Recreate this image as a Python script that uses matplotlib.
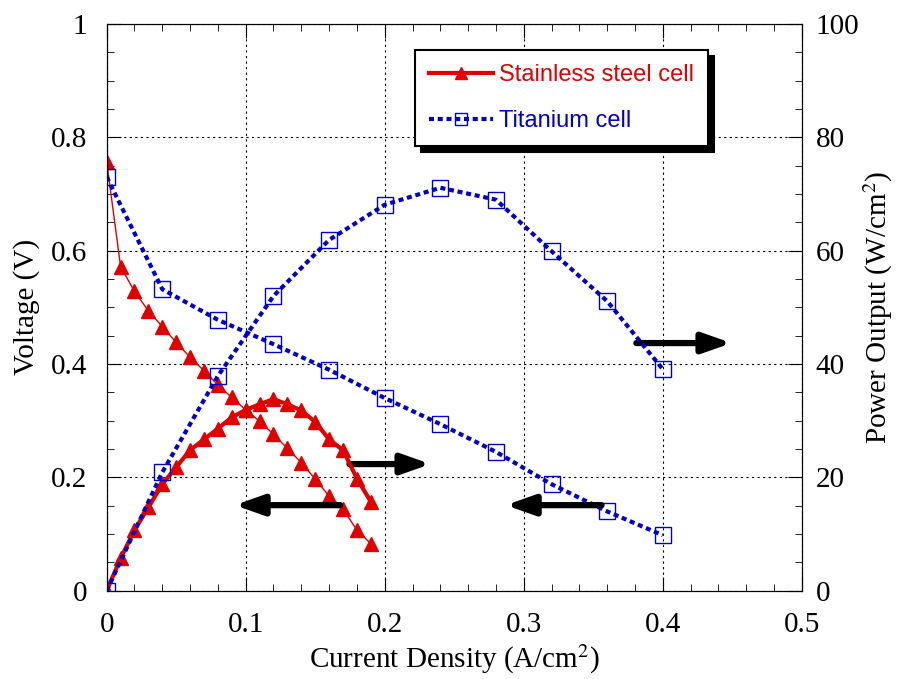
import matplotlib
matplotlib.use('Agg')
import matplotlib.pyplot as plt
from matplotlib.ticker import MultipleLocator

plt.rcParams['font.family'] = 'Liberation Serif'
plt.rcParams['mathtext.fontset'] = 'stix'

# stainless steel cell
ss_j = [0.0, 0.01, 0.02, 0.03, 0.04, 0.05, 0.06, 0.07, 0.08, 0.09,
        0.10, 0.11, 0.12, 0.13, 0.14, 0.15, 0.16, 0.17, 0.18, 0.19]
ss_v = [0.757, 0.572, 0.528, 0.494, 0.466, 0.438, 0.412, 0.388, 0.363, 0.341,
        0.319, 0.299, 0.276, 0.251, 0.226, 0.197, 0.167, 0.144, 0.107, 0.083]
ss_p = [0.0, 5.7, 10.7, 14.7, 18.8, 21.8, 24.8, 26.7, 28.6, 30.6,
        31.9, 32.9, 33.8, 32.9, 31.8, 29.8, 26.7, 24.8, 19.8, 15.7]

# titanium cell
ti_j = [0.0, 0.04, 0.08, 0.12, 0.16, 0.20, 0.24, 0.28, 0.32, 0.36, 0.40]
ti_v = [0.73, 0.532, 0.478, 0.435, 0.39, 0.34, 0.294, 0.245, 0.188, 0.14, 0.098]
ti_p = [0.0, 20.9, 37.9, 52.0, 61.9, 68.1, 71.1, 69.0, 59.9, 51.1, 39.1]

red = '#e00000'
blue = '#0000cc'

fig = plt.figure(figsize=(8.98, 6.79), dpi=100)
ax = fig.add_axes([0.1188, 0.130, 0.7740, 0.8347])
ax2 = ax.twinx()

ax.plot(ss_j, ss_v, '-', color=red, lw=1, marker='^', ms=10, mec=red, mfc=red)
p1, = ax2.plot(ss_j, ss_p, '-', color=red, lw=3, marker='^', ms=10, mec=red, mfc=red)
ax.plot(ti_j, ti_v, color=blue, lw=3, dashes=(1.2, 0.9), marker='s', ms=11,
        mec=blue, mfc='none', mew=1)
p2, = ax2.plot(ti_j, ti_p, color=blue, lw=3, dashes=(1.2, 0.9), marker='s', ms=11,
               mec=blue, mfc='none', mew=1)

ax.set_xlim(0, 0.5)
ax.set_ylim(0, 1)
ax2.set_ylim(0, 100)
ax.xaxis.set_minor_locator(MultipleLocator(0.02))
ax.yaxis.set_minor_locator(MultipleLocator(0.05))
ax2.yaxis.set_major_locator(MultipleLocator(20))
ax2.yaxis.set_minor_locator(MultipleLocator(5))
ax.set_xticks([0, 0.1, 0.2, 0.3, 0.4, 0.5], ['0', '0.1', '0.2', '0.3', '0.4', '0.5'])
ax.set_yticks([0, 0.2, 0.4, 0.6, 0.8, 1.0], ['0', '0.2', '0.4', '0.6', '0.8', '1'])

ax.tick_params(which='both', direction='in', top=True, labelsize=21)
ax.tick_params(which='major', length=10)
ax.tick_params(axis='x', which='major', pad=15)
ax.tick_params(axis='y', which='major', pad=14)
ax.tick_params(which='minor', length=5)
ax2.tick_params(which='both', direction='in', labelsize=21)
ax2.tick_params(which='major', length=10, pad=10)
ax2.tick_params(which='minor', length=5)

ax.grid(True, which='major', color='k', ls=(0, (2, 3)), lw=0.8)

ax.set_xlabel('Current Density (A/cm$^2$)', fontsize=21, labelpad=4)
ax.set_ylabel('Voltage (V)', fontsize=21, labelpad=8)
ax2.set_ylabel('Power Output (W/cm$^2$)', fontsize=21, labelpad=2)

# direction arrows
arrow = dict(arrowstyle='-|>,head_length=1.7,head_width=0.6', color='k', lw=4.5,
             shrinkA=0, shrinkB=0)
ax.annotate('', xy=(0.092, 0.151), xytext=(0.168, 0.151), arrowprops=arrow)
ax.annotate('', xy=(0.233, 0.2235), xytext=(0.1746, 0.2235), arrowprops=arrow)
ax.annotate('', xy=(0.287, 0.151), xytext=(0.356, 0.151), arrowprops=arrow)
ax.annotate('', xy=(0.4495, 0.437), xytext=(0.381, 0.437), arrowprops=arrow)

leg = ax2.legend([p1, p2], ['Stainless steel cell', 'Titanium cell'],
                 loc='upper left', bbox_to_anchor=(0.444, 0.954),
                 prop={'family': 'Liberation Sans', 'size': 17},
                 fancybox=False, framealpha=1, edgecolor='k', markerscale=0.8,
                 shadow={'ox': 4, 'oy': -4, 'color': 'k', 'alpha': 1},
                 handlelength=2.7, handletextpad=0.25, borderpad=0.6,
                 labelspacing=1.0, borderaxespad=0)
leg.get_frame().set_linewidth(1.5)
leg.texts[0].set_color(red)
leg.texts[1].set_color(blue)

fig.savefig('out.png', dpi=100)
